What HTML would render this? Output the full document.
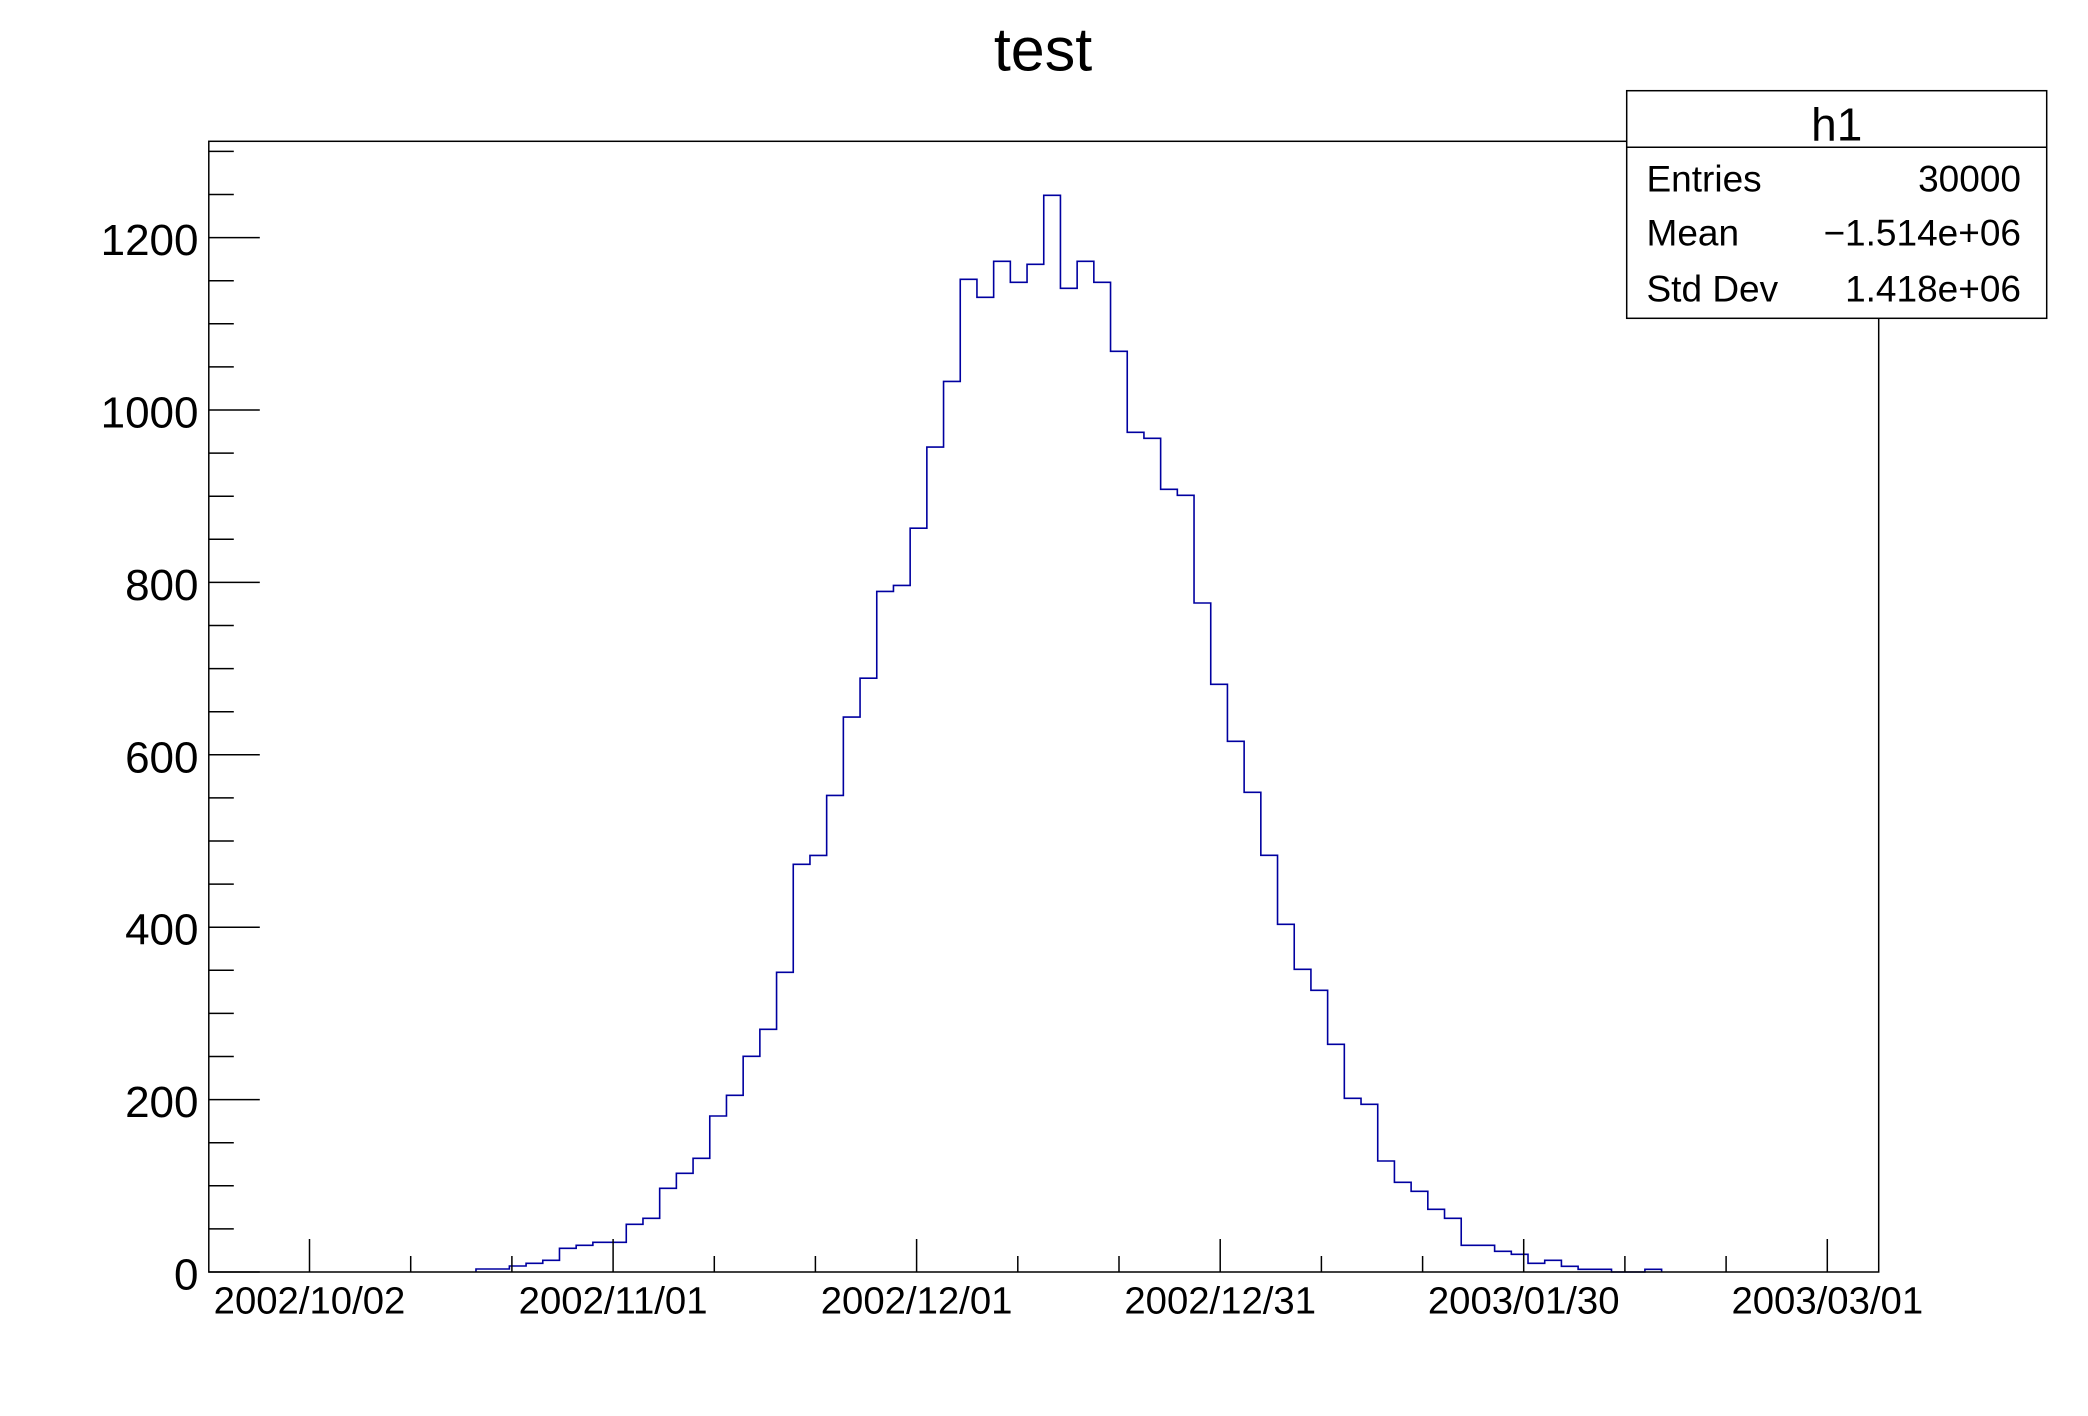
<!DOCTYPE html>
<html>
<head>
<meta charset="utf-8">
<style>
  html, body { margin: 0; padding: 0; background: #ffffff; }
  svg { display: block; }
  text { font-family: "Liberation Sans", Arial, Helvetica, sans-serif; fill: #000; }
</style>
</head>
<body>
<svg width="2088" height="1416" viewBox="0 0 2088 1416" xmlns="http://www.w3.org/2000/svg">
  <rect x="0" y="0" width="2088" height="1416" fill="#ffffff"/>

  <!-- Title -->
  <text x="1043" y="70.7" font-size="61" text-anchor="middle">test</text>

  <!-- Histogram -->
  <path fill="none" stroke="#0000a0" stroke-width="1.6" d="M475.98,1272 V1269 h16.699 V1269 h16.699 V1266 h16.699 V1263.3 h16.699 V1260.3 h16.699 V1248.3 h16.699 V1245.3 h16.699 V1242.3 h16.699 V1242.3 h16.699 V1224.3 h16.699 V1218.3 h16.699 V1188.3 h16.699 V1173.3 h16.699 V1158.3 h16.699 V1116 h16.699 V1095.3 h16.699 V1056.3 h16.699 V1029.3 h16.699 V972.3 h16.699 V864.3 h16.699 V855.4 h16.699 V795.4 h16.699 V717.1 h16.699 V678.2 h16.699 V591.4 h16.699 V585.4 h16.699 V528.2 h16.699 V447.1 h16.699 V381.4 h16.699 V279.3 h16.699 V297.3 h16.699 V261.3 h16.699 V282.3 h16.699 V264.3 h16.699 V195.3 h16.699 V288.3 h16.699 V261.3 h16.699 V282.3 h16.699 V351.3 h16.699 V432.3 h16.699 V438.3 h16.699 V489.3 h16.699 V495.3 h16.699 V603 h16.699 V684.3 h16.699 V741.3 h16.699 V792.3 h16.699 V855.3 h16.699 V924.3 h16.699 V969.3 h16.699 V990.3 h16.699 V1044.3 h16.699 V1098.3 h16.699 V1104.3 h16.699 V1161 h16.699 V1182.3 h16.699 V1191.3 h16.699 V1209.3 h16.699 V1218.3 h16.699 V1245.3 h16.699 V1245.3 h16.699 V1251.3 h16.699 V1254.3 h16.699 V1263.3 h16.699 V1260.3 h16.699 V1266.3 h16.699 V1269.3 h16.699 V1269.3 h16.699 V1272 h16.699 V1272 h16.699 V1269.3 h16.699 V1272"/>

  <!-- Frame -->
  <rect x="208.8" y="141.3" width="1669.9" height="1130.7" fill="none" stroke="#000" stroke-width="1.5"/>

  <!-- Y axis ticks -->
  <g stroke="#000" stroke-width="1.5">
    <!-- major -->
    <line x1="208.8" y1="1272" x2="259.8" y2="1272"/>
    <line x1="208.8" y1="1099.6" x2="259.8" y2="1099.6"/>
    <line x1="208.8" y1="927.2" x2="259.8" y2="927.2"/>
    <line x1="208.8" y1="754.8" x2="259.8" y2="754.8"/>
    <line x1="208.8" y1="582.4" x2="259.8" y2="582.4"/>
    <line x1="208.8" y1="410" x2="259.8" y2="410"/>
    <line x1="208.8" y1="237.6" x2="259.8" y2="237.6"/>
    <!-- minor -->
    <line x1="208.8" y1="1228.9" x2="233.8" y2="1228.9"/>
    <line x1="208.8" y1="1185.8" x2="233.8" y2="1185.8"/>
    <line x1="208.8" y1="1142.7" x2="233.8" y2="1142.7"/>
    <line x1="208.8" y1="1056.5" x2="233.8" y2="1056.5"/>
    <line x1="208.8" y1="1013.4" x2="233.8" y2="1013.4"/>
    <line x1="208.8" y1="970.3" x2="233.8" y2="970.3"/>
    <line x1="208.8" y1="884.1" x2="233.8" y2="884.1"/>
    <line x1="208.8" y1="841" x2="233.8" y2="841"/>
    <line x1="208.8" y1="797.9" x2="233.8" y2="797.9"/>
    <line x1="208.8" y1="711.7" x2="233.8" y2="711.7"/>
    <line x1="208.8" y1="668.6" x2="233.8" y2="668.6"/>
    <line x1="208.8" y1="625.5" x2="233.8" y2="625.5"/>
    <line x1="208.8" y1="539.3" x2="233.8" y2="539.3"/>
    <line x1="208.8" y1="496.2" x2="233.8" y2="496.2"/>
    <line x1="208.8" y1="453.1" x2="233.8" y2="453.1"/>
    <line x1="208.8" y1="366.9" x2="233.8" y2="366.9"/>
    <line x1="208.8" y1="323.8" x2="233.8" y2="323.8"/>
    <line x1="208.8" y1="280.7" x2="233.8" y2="280.7"/>
    <line x1="208.8" y1="194.5" x2="233.8" y2="194.5"/>
    <line x1="208.8" y1="151.4" x2="233.8" y2="151.4"/>
  </g>

  <!-- Y labels -->
  <g font-size="44" text-anchor="end">
    <text x="198.5" y="1289.5">0</text>
    <text x="198.5" y="1117.1">200</text>
    <text x="198.5" y="944.7">400</text>
    <text x="198.5" y="772.3">600</text>
    <text x="198.5" y="599.9">800</text>
    <text x="198.5" y="427.5">1000</text>
    <text x="198.5" y="255.1">1200</text>
  </g>

  <!-- X axis ticks -->
  <g stroke="#000" stroke-width="1.5">
    <!-- major -->
    <line x1="309.5" y1="1272" x2="309.5" y2="1239"/>
    <line x1="613.1" y1="1272" x2="613.1" y2="1239"/>
    <line x1="916.6" y1="1272" x2="916.6" y2="1239"/>
    <line x1="1220.2" y1="1272" x2="1220.2" y2="1239"/>
    <line x1="1523.7" y1="1272" x2="1523.7" y2="1239"/>
    <line x1="1827.3" y1="1272" x2="1827.3" y2="1239"/>
    <!-- minor -->
    <line x1="410.7" y1="1272" x2="410.7" y2="1256"/>
    <line x1="511.9" y1="1272" x2="511.9" y2="1256"/>
    <line x1="714.3" y1="1272" x2="714.3" y2="1256"/>
    <line x1="815.4" y1="1272" x2="815.4" y2="1256"/>
    <line x1="1017.8" y1="1272" x2="1017.8" y2="1256"/>
    <line x1="1119.0" y1="1272" x2="1119.0" y2="1256"/>
    <line x1="1321.4" y1="1272" x2="1321.4" y2="1256"/>
    <line x1="1422.6" y1="1272" x2="1422.6" y2="1256"/>
    <line x1="1624.9" y1="1272" x2="1624.9" y2="1256"/>
    <line x1="1726.1" y1="1272" x2="1726.1" y2="1256"/>
  </g>

  <!-- X labels -->
  <g font-size="38.3" text-anchor="middle">
    <text x="309.5" y="1313.3">2002/10/02</text>
    <text x="613.1" y="1313.3">2002/11/01</text>
    <text x="916.6" y="1313.3">2002/12/01</text>
    <text x="1220.2" y="1313.3">2002/12/31</text>
    <text x="1523.7" y="1313.3">2003/01/30</text>
    <text x="1827.3" y="1313.3">2003/03/01</text>
  </g>

  <!-- Stats box -->
  <rect x="1626.7" y="90.7" width="420" height="227.6" fill="#ffffff" stroke="#000" stroke-width="1.5"/>
  <line x1="1626.7" y1="147.3" x2="2046.7" y2="147.3" stroke="#000" stroke-width="1.5"/>
  <text x="1836.7" y="140.7" font-size="46" text-anchor="middle">h1</text>
  <g font-size="37">
    <text x="1646.5" y="191.5">Entries</text>
    <text x="1646.5" y="245.5">Mean</text>
    <text x="1646.5" y="301.5">Std Dev</text>
  </g>
  <g font-size="37" text-anchor="end">
    <text x="2021" y="191.5">30000</text>
    <text x="2021" y="245.5">−1.514e+06</text>
    <text x="2021" y="301.5">1.418e+06</text>
  </g>
</svg>
</body>
</html>
